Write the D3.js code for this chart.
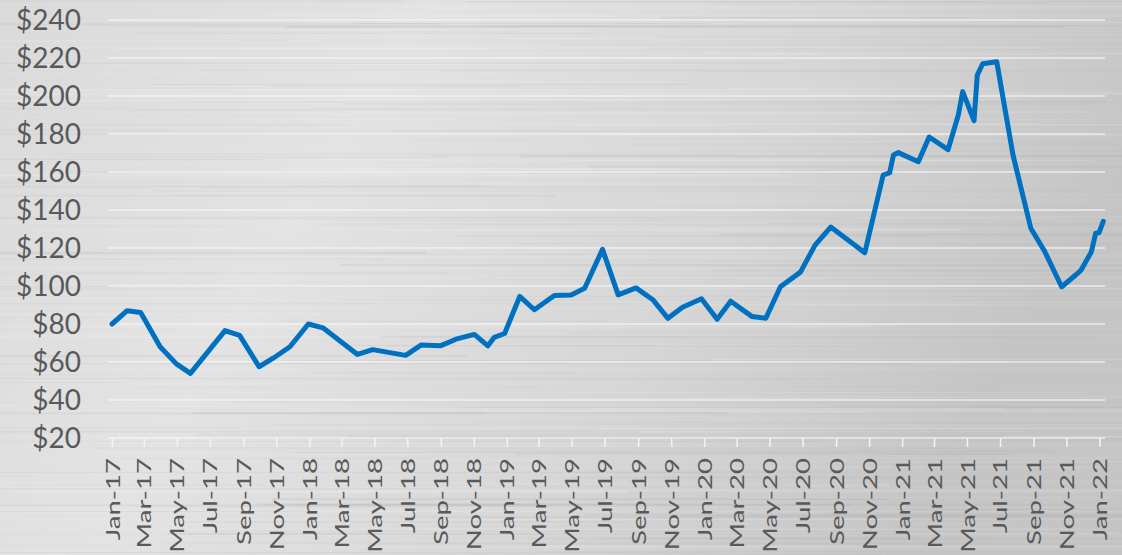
<!DOCTYPE html>
<html>
<head>
<meta charset="utf-8">
<script src="https://cdn.jsdelivr.net/npm/d3@7"></script>
<style>
  html, body { margin: 0; padding: 0; background: #d9d9d9; }
  svg { display: block; }
</style>
</head>
<body>
<div id="chart"></div>
<script>
// 데이터
var dates = ["2017-01-01","2017-01-29","2017-02-23","2017-03-31","2017-04-30","2017-05-26","2017-07-29",
  "2017-08-25","2017-09-30","2017-10-26","2017-11-26","2017-12-30","2018-01-26","2018-03-31","2018-04-28",
  "2018-06-28","2018-07-27","2018-08-31","2018-09-29","2018-11-02","2018-11-27","2018-12-09","2018-12-28",
  "2019-01-25","2019-02-21","2019-03-30","2019-04-30","2019-05-25","2019-06-27","2019-07-26","2019-08-28",
  "2019-09-28","2019-10-26","2019-11-22","2019-12-27","2020-01-25","2020-02-19","2020-03-29","2020-04-24",
  "2020-05-21","2020-06-27","2020-07-24","2020-08-22","2020-10-24","2020-11-27","2020-12-09","2020-12-16",
  "2020-12-25","2021-01-31","2021-02-20","2021-03-27","2021-04-15","2021-04-23","2021-05-14","2021-05-20",
  "2021-05-30","2021-06-25","2021-07-25","2021-08-27","2021-09-22","2021-10-23","2021-11-18","2021-11-28",
  "2021-12-17","2021-12-25","2021-12-31","2022-01-08"];
var prices = [80, 87, 86, 68, 59, 54, 76.5,
  74, 57.5, 62, 68, 80, 78, 64, 66.5,
  63.5, 69, 68.5, 72, 74.5, 68.5, 73, 75,
  94.5, 87.5, 95, 95.3, 98.8, 119.3, 95.3, 99,
  92.8, 83, 88.8, 93.3, 82.5, 92, 84, 83,
  99.6, 107.3, 121.5, 131, 117.5, 158.4, 159.6, 169,
  170.2, 165.4, 178.4, 171.8, 190, 202.3, 187, 211,
  217, 218, 169, 130.4, 118, 99.6, 105.8, 108.4,
  118, 127.8, 128, 134];
var yTicks = [20, 40, 60, 80, 100, 120, 140, 160, 180, 200, 220, 240];

var parseDate = d3.timeParse("%Y-%m-%d");
var data = dates.map(function(d, i) { return { date: parseDate(d), value: prices[i] }; });

// SVG 설정
var width = 1122, height = 555;
var svg = d3.select("#chart").append("svg")
  .attr("width", width)
  .attr("height", height);

// 배경 (브러시드 메탈 느낌)
var defs = svg.append("defs");
var grad = defs.append("linearGradient").attr("id", "metal")
  .attr("x1", "0").attr("y1", "0").attr("x2", "1").attr("y2", "0.3");
grad.append("stop").attr("offset", "0").attr("stop-color", "#dadada");
grad.append("stop").attr("offset", "0.35").attr("stop-color", "#e3e3e3");
grad.append("stop").attr("offset", "0.7").attr("stop-color", "#d6d6d6");
grad.append("stop").attr("offset", "1").attr("stop-color", "#c5c5c5");
svg.append("rect").attr("width", width).attr("height", height).attr("fill", "url(#metal)");

// 가로 줄무늬 (고정된 해시값으로 생성)
function hash(i) { var s = Math.sin(i * 12.9898 + 78.233) * 43758.5453; return s - Math.floor(s); }
var streaks = d3.range(360);
svg.append("g").selectAll("rect")
  .data(streaks)
  .enter()
  .append("rect")
  .attr("x", function(i) { return hash(i) * 1000 - 250; })
  .attr("y", function(i) { return hash(i + 500) * height; })
  .attr("width", function(i) { return 250 + hash(i + 1000) * 800; })
  .attr("height", function(i) { return hash(i + 1500) > 0.7 ? 2 : 1; })
  .attr("fill", function(i) { return hash(i + 2000) > 0.45 ? "#ffffff" : "#9a9a9a"; })
  .attr("opacity", function(i) { return 0.05 + hash(i + 2500) * 0.1; });

// 스케일
var xScale = d3.scaleTime()
  .domain([new Date(2017, 0, 1), new Date(2022, 0, 1)])
  .range([112, 1099.5]);
var yScale = d3.scaleLinear().domain([20, 240]).range([438, 20]);

// 가로 격자선
svg.append("g").selectAll("line")
  .data(yTicks)
  .enter()
  .append("line")
  .attr("x1", 108).attr("x2", 1105)
  .attr("y1", function(d) { return yScale(d); })
  .attr("y2", function(d) { return yScale(d); })
  .attr("stroke", "#f6f6f6")
  .attr("stroke-width", 1.5)
  .attr("opacity", 0.8);

// y축 레이블
svg.append("g").selectAll("text")
  .data(yTicks)
  .enter()
  .append("text")
  .attr("x", 81)
  .attr("y", function(d) { return yScale(d); })
  .attr("dy", "0.36em")
  .attr("text-anchor", "end")
  .style("font-family", "Lato, 'Open Sans', sans-serif")
  .style("font-size", "28px")
  .style("fill", "#595959")
  .text(function(d) { return "$" + d; });

// x축 (2개월 간격)
var xAxis = d3.axisBottom(xScale)
  .ticks(d3.timeMonth.every(2))
  .tickFormat(d3.timeFormat("%b-%y"))
  .tickSize(9);
var gx = svg.append("g")
  .attr("transform", "translate(0," + yScale(20) + ")")
  .call(xAxis);
gx.select(".domain").remove();
gx.selectAll(".tick line").attr("stroke", "#f4f4f4").attr("stroke-width", 1.5);
gx.selectAll(".tick text")
  .attr("text-anchor", "end")
  .attr("dy", null)
  .attr("y", null)
  .attr("transform", "translate(7,20) rotate(-90) scale(1.02,0.68)")
  .style("font-family", "Lato, 'Open Sans', sans-serif")
  .style("font-size", "27px")
  .style("fill", "#595959");

// 선 그리기
var line = d3.line()
  .x(function(d) { return xScale(d.date); })
  .y(function(d) { return yScale(d.value); });
svg.append("path")
  .datum(data)
  .attr("d", line)
  .attr("fill", "none")
  .attr("stroke", "#0070c0")
  .attr("stroke-width", 5)
  .attr("stroke-linejoin", "round")
  .attr("stroke-linecap", "round");
</script>
</body>
</html>
